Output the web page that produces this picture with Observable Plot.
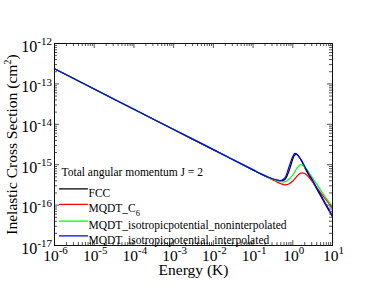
<!DOCTYPE html>
<html><head><meta charset="utf-8">
<script src="https://cdn.jsdelivr.net/npm/d3@7"></script>
<script src="https://cdn.jsdelivr.net/npm/@observablehq/plot@0.6"></script>
<style>
body{margin:0;background:#fff}
svg{display:block}
svg, svg text, svg tspan{font-family:"Liberation Serif","Times New Roman",Times,serif !important;}
</style>
</head><body><div id="chart"></div>
<script>
// Energy (K)
const energy = [1e-6, 1e-5, 1e-4, 1e-3, 1e-2, 1e-1, 0.158, 0.251, 0.316, 0.398, 0.501, 0.631, 0.794, 1.0, 1.122, 1.259, 1.585, 1.995, 2.512, 3.162, 3.981, 5.012, 6.310, 7.943, 10];
// Inelastic cross sections (cm^2)
const fcc = [2.36e-13, 7.46e-14, 2.36e-14, 7.46e-15, 2.36e-15, 7.46e-16, 5.92e-16, 4.82e-16, 4.43e-16, 4.18e-16, 3.99e-16, 4.31e-16, 6.79e-16, 1.38e-15, 1.74e-15, 1.79e-15, 1.35e-15, 8.53e-16, 5.56e-16, 3.84e-16, 2.53e-16, 1.70e-16, 1.13e-16, 7.57e-17, 5.13e-17];
const mqdtC6 = [2.36e-13, 7.46e-14, 2.36e-14, 7.46e-15, 2.36e-15, 7.46e-16, 5.85e-16, 4.69e-16, 4.18e-16, 3.73e-16, 3.37e-16, 3.18e-16, 3.33e-16, 3.95e-16, 4.50e-16, 5.11e-16, 6.19e-16, 6.05e-16, 4.96e-16, 3.73e-16, 2.73e-16, 2.00e-16, 1.50e-16, 1.13e-16, 8.47e-17];
const mqdtNonInterp = [2.36e-13, 7.46e-14, 2.36e-14, 7.46e-15, 2.36e-15, 7.46e-16, 5.92e-16, 4.74e-16, 4.32e-16, 4.02e-16, 3.79e-16, 3.77e-16, 4.31e-16, 5.56e-16, 6.59e-16, 8.05e-16, 1.00e-15, 8.77e-16, 6.59e-16, 4.69e-16, 3.33e-16, 2.36e-16, 1.68e-16, 1.23e-16, 8.97e-17];
const mqdtInterp = [2.36e-13, 7.46e-14, 2.36e-14, 7.46e-15, 2.36e-15, 7.46e-16, 5.92e-16, 4.82e-16, 4.43e-16, 4.18e-16, 4.06e-16, 4.69e-16, 8.53e-16, 1.60e-15, 1.91e-15, 1.84e-15, 1.37e-15, 9.18e-16, 5.96e-16, 4.13e-16, 2.73e-16, 1.83e-16, 1.21e-16, 8.10e-17, 5.43e-17];

const seriesNames = ["FCC", "MQDT_C6", "MQDT_isotropicpotential_noninterpolated", "MQDT_isotropicpotential_interpolated"];
const seriesColors = ["#000000", "#ff0000", "#00ff00", "#0000ff"];
const seriesValues = [fcc, mqdtC6, mqdtNonInterp, mqdtInterp];
const legendTitle = "Total angular momentum J = 2";

const xTickExps = ["-6", "-5", "-4", "-3", "-2", "-1", "0", "1"];
const yTickExps = ["-17", "-16", "-15", "-14", "-13", "-12"];
const xTitle = "Energy (K)";
const yTitle = "Inelastic Cross Section (cm2)";

const xMajor = xTickExps.map(e => Math.pow(10, +e));
const yMajor = yTickExps.map(e => Math.pow(10, +e));
const minorOf = majors => majors.slice(0, -1).flatMap(m => [2,3,4,5,6,7,8,9].map(k => k * m));
const xMinor = minorOf(xMajor);
const yMinor = minorOf(yMajor);

const table = seriesNames.flatMap((name, s) => energy.map((e, i) => ({series: name, E: e, sigma: seriesValues[s][i]})));

const W = 374, H = 289, ML = 54, MR = 42, MT = 43, MB = 44;
const IW = W - ML - MR, IH = H - MT - MB;
const lineShape = {draw(c, l) { c.moveTo(0, 0); c.lineTo(0, -l); }};
const legendDy = [145.3, 160.8, 177.7, 192.4];
const FONT = "Liberation Serif";

const tickStroke = "#555";
const marks = [
  ...seriesNames.map((name, s) => Plot.line(table.filter(d => d.series === name), {
    x: "E", y: "sigma", stroke: seriesColors[s], strokeWidth: 1.2, curve: "catmull-rom"
  })),
  // ticks (inside, mirrored)
  Plot.tickX(xMajor, {x: d => d, insetTop: IH - 5, stroke: tickStroke}),
  Plot.tickX(xMajor, {x: d => d, insetBottom: IH - 5, stroke: tickStroke}),
  Plot.tickX(xMinor, {x: d => d, insetTop: IH - 3, stroke: tickStroke}),
  Plot.tickX(xMinor, {x: d => d, insetBottom: IH - 3, stroke: tickStroke}),
  Plot.tickY(yMajor, {y: d => d, insetRight: IW - 5, stroke: tickStroke}),
  Plot.tickY(yMajor, {y: d => d, insetLeft: IW - 5, stroke: tickStroke}),
  Plot.tickY(yMinor, {y: d => d, insetRight: IW - 3, stroke: tickStroke}),
  Plot.tickY(yMinor, {y: d => d, insetLeft: IW - 3, stroke: tickStroke}),
  Plot.frame({stroke: "#111"}),
  // tick labels (10^n, superscript added below)
  Plot.text(xMajor, {x: d => d, text: (d, i) => "10^" + xTickExps[i], frameAnchor: "bottom", textAnchor: "middle", dx: 1, dy: 15, fontSize: 15.5, fontFamily: FONT}),
  Plot.text(yMajor, {y: d => d, text: (d, i) => "10^" + yTickExps[i], frameAnchor: "left", textAnchor: "end", dx: -2.5, dy: 3, fontSize: 16, fontFamily: FONT}),
  // axis titles
  Plot.text([xTitle], {frameAnchor: "bottom", dy: 29, fontSize: 15.5, fontFamily: FONT}),
  Plot.axisY({anchor: "left", label: yTitle, labelAnchor: "center", labelArrow: "none", labelOffset: 49, tickSize: 0, tickFormat: () => "", fontSize: 15.5, fontFamily: FONT}),
  // legend
  Plot.text([legendTitle], {frameAnchor: "top-left", dx: 7, dy: 124, textAnchor: "start", fontSize: 11.5, fontFamily: FONT}),
  ...seriesNames.map((name, s) => Plot.vector([0], {
    frameAnchor: "top-left", dx: 5, dy: legendDy[s], length: 28, rotate: 90, anchor: "start",
    shape: lineShape, stroke: seriesColors[s], strokeWidth: 1.2
  })),
  ...seriesNames.map((name, s) => Plot.text([name], {
    frameAnchor: "top-left", dx: 34, dy: legendDy[s], textAnchor: "start", fontSize: 11.5, fontFamily: FONT
  }))
];

const chart = Plot.plot({
  width: W, height: H,
  marginLeft: ML, marginRight: MR, marginTop: MT, marginBottom: MB,
  x: {type: "log", domain: [1e-6, 10], axis: null},
  y: {type: "log", domain: [1e-17, 1e-12]},
  style: {fontFamily: "'Liberation Serif','Times New Roman',serif", background: "#fff", color: "#000"},
  marks
});

// superscripts / subscripts via tspans
d3.select(chart).selectAll("text").each(function() {
  const t = this.textContent;
  const sel = d3.select(this);
  if (t.includes("Inelastic")) {
    sel.selectAll("*").remove();
    sel.text(null);
    sel.append("tspan").text("Inelastic Cross Section (cm");
    sel.append("tspan").attr("dy", -6).attr("font-size", 10.5).text("2");
    sel.append("tspan").attr("dy", 6).text(")");
  } else if (t.includes("^")) {
    const [base, exp] = t.split("^");
    sel.text(null);
    sel.append("tspan").text(base);
    sel.append("tspan").attr("dy", -6.5).attr("font-size", 11).text(exp);
  } else if (t === "MQDT_C6") {
    sel.text(null);
    sel.append("tspan").text("MQDT_C");
    sel.append("tspan").attr("dy", 4).attr("font-size", 8.5).text("6");
  }
});

document.getElementById("chart").appendChild(chart);
</script>
</body></html>
